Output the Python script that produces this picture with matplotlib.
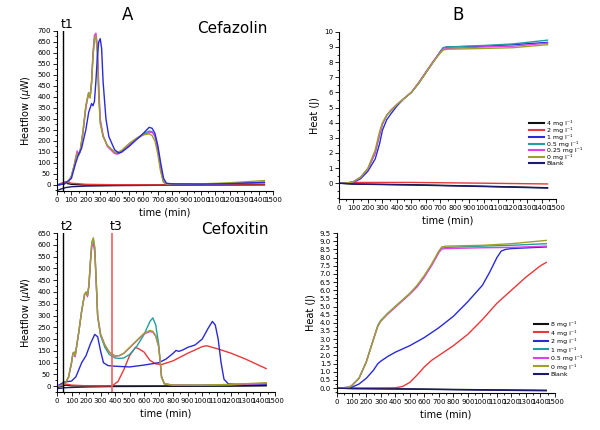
import matplotlib
matplotlib.use("Agg")
import matplotlib.pyplot as plt
from matplotlib.ticker import MultipleLocator, FormatStrFormatter, FixedLocator

# ---------------- Farben / Legenden ----------------
col = {"black": "#101010", "red": "#e8383a", "blue": "#2a2ad8", "teal": "#1fa0a0",
       "magenta": "#e040e8", "olive": "#a0a028", "navy": "#1a1a70"}

labels_cefazolin = ["4 mg l⁻¹", "2 mg l⁻¹", "1 mg l⁻¹", "0.5 mg l⁻¹",
                    "0.25 mg l⁻¹", "0 mg l⁻¹", "Blank"]
labels_cefoxitin = ["8 mg l⁻¹", "4 mg l⁻¹", "2 mg l⁻¹", "1 mg l⁻¹",
                    "0.5 mg l⁻¹", "0 mg l⁻¹", "Blank"]
colors = ["black", "red", "blue", "teal", "magenta", "olive", "navy"]

# ---------------- Cefazolin Heatflow (uW) ----------------
hf_t_main = [0, 50, 80, 100, 120, 130, 140, 150, 160, 180, 200, 210, 220, 230, 240, 250, 260, 270,
             280, 290, 300, 320, 350, 400, 420, 450, 500, 550, 600, 640, 660, 680, 700, 720, 740,
             760, 800, 1000, 1200, 1440]
hf_cz_olive = [0, 5, 15, 40, 90, 120, 145, 135, 150, 240, 360, 390, 420, 395, 460, 580, 660, 680,
               600, 400, 280, 220, 180, 150, 148, 158, 188, 212, 228, 232, 225, 200, 140, 60, 12,
               5, 4, 5, 10, 20]
hf_cz_magenta = [0, 5, 15, 40, 90, 125, 155, 140, 150, 235, 350, 385, 415, 400, 470, 600, 680, 690,
                 640, 450, 300, 225, 175, 143, 140, 150, 180, 208, 228, 238, 240, 225, 170, 80, 15,
                 5, 4, 4, 6, 10]
hf_cz_teal = [0, 5, 15, 40, 90, 120, 140, 135, 150, 240, 355, 390, 420, 400, 465, 590, 665, 675,
              610, 420, 290, 222, 178, 146, 143, 153, 183, 210, 232, 245, 242, 222, 160, 70, 13,
              5, 4, 4, 7, 12]
hf_t_blue = [0, 50, 100, 130, 150, 170, 200, 220, 240, 250, 260, 270, 280, 290, 300, 310, 320, 340,
             360, 400, 430, 450, 500, 550, 600, 640, 660, 680, 700, 720, 740, 760, 800, 1000, 1200, 1440]
hf_cz_blue = [0, 5, 30, 100, 140, 165, 250, 330, 370, 360, 380, 470, 580, 650, 665, 620, 470, 300,
              220, 160, 145, 150, 175, 205, 235, 262, 258, 235, 180, 100, 30, 8, 5, 4, 6, 12]
hf_t_flat = [0, 30, 60, 100, 200, 400, 800, 1200, 1440]
hf_cz_black = [-2, 4, 8, 3, 0, 0, 0, 1, 2]
hf_cz_red = [0, 8, 15, 8, 3, 1, 0, 0, 0]
hf_cz_navy = [-25, -18, -12, -8, -5, -3, -1, 0, 2]

# ---------------- Cefazolin Heat (J) ----------------
q_t = [0, 50, 100, 150, 200, 250, 280, 300, 330, 360, 400, 450, 500, 550, 600, 650, 700, 720, 750,
       1000, 1200, 1440]
q_cz_olive = [0, 0, 0.1, 0.4, 1.0, 2.2, 3.4, 4.0, 4.5, 4.8, 5.2, 5.6, 6.0, 6.6, 7.3, 8.0, 8.6, 8.8,
              8.85, 8.9, 8.95, 9.15]
q_cz_teal = [0, 0, 0.1, 0.4, 0.95, 2.0, 3.2, 3.9, 4.5, 4.8, 5.2, 5.6, 6.0, 6.6, 7.3, 8.0, 8.7, 8.95,
             9.0, 9.1, 9.2, 9.45]
q_cz_magenta = [0, 0, 0.1, 0.4, 0.95, 2.0, 3.2, 3.9, 4.5, 4.85, 5.2, 5.6, 6.0, 6.65, 7.35, 8.05, 8.65,
                8.85, 8.9, 9.0, 9.05, 9.25]
q_cz_blue = [0, 0, 0.05, 0.3, 0.8, 1.6, 2.6, 3.5, 4.2, 4.6, 5.1, 5.6, 6.0, 6.6, 7.3, 8.0, 8.7, 8.95,
             9.0, 9.05, 9.15, 9.3]
q_t_flat = [0, 100, 500, 1000, 1440]
q_cz_black = [0, -0.05, -0.1, -0.2, -0.3]
q_cz_red = [0, 0.05, 0.05, 0.0, -0.05]
q_cz_navy = [0, -0.06, -0.12, -0.22, -0.32]

# ---------------- Cefoxitin Heatflow (uW) ----------------
hf_t_fx = [0, 40, 60, 80, 100, 110, 120, 125, 130, 150, 170, 190, 200, 210, 220, 230, 240, 250, 260,
           270, 280, 300, 330, 360, 400, 430, 460, 500, 550, 600, 640, 660, 680, 700, 710, 720, 740,
           800, 1000, 1200, 1440]
hf_fx_olive = [0, 5, 15, 40, 100, 140, 145, 130, 150, 230, 320, 390, 400, 385, 430, 530, 610, 630,
               590, 450, 300, 220, 175, 145, 128, 130, 140, 165, 195, 225, 237, 233, 215, 170, 110,
               40, 10, 5, 5, 8, 15]
hf_fx_magenta = [0, 5, 15, 40, 100, 140, 140, 125, 145, 230, 320, 390, 395, 380, 425, 520, 595, 605,
                 570, 440, 300, 222, 175, 145, 128, 130, 140, 163, 193, 222, 232, 230, 212, 168, 108,
                 38, 10, 5, 4, 6, 12]
hf_fx_teal = [0, 5, 15, 40, 100, 140, 145, 130, 150, 230, 320, 390, 400, 385, 430, 530, 610, 625,
              585, 445, 295, 215, 165, 135, 120, 118, 120, 135, 170, 220, 275, 290, 260, 180, 110,
              40, 10, 5, 5, 7, 12]
hf_t_fx_blue = [0, 50, 100, 130, 170, 200, 230, 260, 280, 300, 320, 350, 400, 500, 600, 700, 750, 800,
                820, 840, 870, 900, 950, 1000, 1040, 1070, 1090, 1110, 1130, 1150, 1180, 1250, 1440]
hf_fx_blue = [0, 18, 22, 40, 100, 130, 180, 220, 210, 150, 100, 88, 85, 82, 90, 100, 115, 140, 152,
              148, 155, 165, 175, 200, 245, 275, 260, 200, 100, 30, 10, 8, 8]
hf_t_fx_red = [0, 50, 100, 200, 300, 380, 420, 460, 500, 540, 560, 600, 640, 680, 720, 800, 900, 1000,
               1030, 1100, 1200, 1300, 1440]
hf_fx_red = [0, 10, 5, 2, 1, 2, 20, 70, 130, 165, 160, 145, 110, 95, 92, 108, 140, 168, 172, 160, 140,
             115, 75]
hf_fx_black = [-5, 0, 5, 2, 1, 1, 1, 1, 2]
hf_fx_navy = [-10, -8, -6, -5, -3, -1, 0, 2, 4]

# ---------------- Cefoxitin Heat (J) ----------------
q_t_fx = [0, 80, 100, 150, 200, 250, 280, 300, 350, 400, 450, 500, 550, 600, 650, 700, 720, 750,
          1000, 1200, 1440]
q_fx_olive = [0, 0.05, 0.15, 0.6, 1.6, 3.0, 3.8, 4.1, 4.6, 5.0, 5.4, 5.8, 6.3, 6.9, 7.6, 8.4, 8.65,
              8.7, 8.75, 8.85, 9.05]
q_fx_teal = [0, 0.05, 0.15, 0.6, 1.6, 3.0, 3.85, 4.15, 4.6, 5.0, 5.4, 5.8, 6.25, 6.85, 7.55, 8.35,
             8.58, 8.62, 8.7, 8.75, 8.85]
q_fx_magenta = [0, 0.05, 0.15, 0.6, 1.6, 3.0, 3.8, 4.1, 4.55, 4.95, 5.35, 5.75, 6.2, 6.8, 7.5, 8.3,
                8.52, 8.55, 8.6, 8.62, 8.7]
q_t_fx_blue = [0, 100, 150, 200, 250, 280, 300, 350, 400, 500, 600, 700, 800, 900, 1000, 1050, 1100,
               1130, 1160, 1200, 1440]
q_fx_blue = [0, 0.05, 0.25, 0.6, 1.1, 1.5, 1.65, 1.95, 2.2, 2.6, 3.1, 3.7, 4.4, 5.3, 6.3, 7.1, 8.0,
             8.4, 8.5, 8.55, 8.65]
q_t_fx_red = [0, 400, 450, 500, 550, 600, 650, 700, 800, 900, 1000, 1100, 1200, 1300, 1400, 1440]
q_fx_red = [0, 0.02, 0.1, 0.35, 0.8, 1.3, 1.7, 2.0, 2.6, 3.3, 4.2, 5.2, 6.0, 6.8, 7.5, 7.7]
q_fx_black = [0, -0.02, -0.05, -0.1, -0.13]
q_fx_navy = [0, -0.03, -0.06, -0.12, -0.16]


def style_axis(ax, ymax, ymin, ymajor, yminor, yfmt=None):
    ax.set_xlim(0, 1500)
    ax.set_ylim(ymin, ymax)
    ax.spines["top"].set_visible(False)
    ax.spines["right"].set_visible(False)
    ax.xaxis.set_major_locator(MultipleLocator(100))
    ax.xaxis.set_minor_locator(MultipleLocator(50))
    ax.yaxis.set_major_locator(MultipleLocator(ymajor))
    ax.yaxis.set_minor_locator(MultipleLocator(yminor))
    if yfmt:
        ax.yaxis.set_major_formatter(FormatStrFormatter(yfmt))
    ax.tick_params(which="both", direction="out", labelsize=5, width=0.6, pad=1.5)
    ax.tick_params(which="major", length=3)
    ax.tick_params(which="minor", length=1.5)
    ax.set_xlabel("time (min)", fontsize=7, labelpad=3)


fig = plt.figure(figsize=(6, 4.3), dpi=100)
ax1 = fig.add_axes([0.095, 0.556, 0.36, 0.372])
ax2 = fig.add_axes([0.565, 0.537, 0.362, 0.389])
ax3 = fig.add_axes([0.095, 0.088, 0.363, 0.370])
ax4 = fig.add_axes([0.562, 0.086, 0.363, 0.372])

lw = 1.0

# A oben
ax1.plot(hf_t_flat, hf_cz_navy, color=col["navy"], lw=lw)
ax1.plot(hf_t_flat, hf_cz_black, color=col["black"], lw=lw)
ax1.plot(hf_t_flat, hf_cz_red, color=col["red"], lw=lw)
ax1.plot(hf_t_main, hf_cz_teal, color=col["teal"], lw=lw)
ax1.plot(hf_t_main, hf_cz_magenta, color=col["magenta"], lw=lw)
ax1.plot(hf_t_main, hf_cz_olive, color=col["olive"], lw=lw)
ax1.plot(hf_t_blue, hf_cz_blue, color=col["blue"], lw=lw)
ax1.axvline(40, color="black", lw=1.0)
style_axis(ax1, 700, -27, 50, 25)
ax1.set_ylabel("Heatflow ($\\mu$W)", fontsize=7, labelpad=3)
ax1.text(25, 712, "t1", fontsize=9)
ax1.text(1460, 690, "Cefazolin", fontsize=11, ha="right")

# B oben
q_cz_series = [(q_t_flat, q_cz_black), (q_t_flat, q_cz_red), (q_t, q_cz_blue), (q_t, q_cz_teal),
               (q_t, q_cz_magenta), (q_t, q_cz_olive), (q_t_flat, q_cz_navy)]
for (tx, yy), c, lab in zip(q_cz_series, colors, labels_cefazolin):
    ax2.plot(tx, yy, color=col[c], lw=lw, label=lab)
style_axis(ax2, 10, -1.05, 1, 0.5)
ax2.yaxis.set_major_locator(FixedLocator(range(0, 11)))
ax2.set_ylabel("Heat (J)", fontsize=7, labelpad=3)
leg2 = ax2.legend(loc="upper left", bbox_to_anchor=(0.875, 0.47), fontsize=4.5, frameon=False,
                  handlelength=2.4, labelspacing=0.12, borderpad=0, handletextpad=0.4,
                  borderaxespad=0)
for h in leg2.get_lines():
    h.set_linewidth(1.5)

# A unten
ax3.plot(hf_t_flat, hf_fx_navy, color=col["navy"], lw=lw)
ax3.plot(hf_t_flat, hf_fx_black, color=col["black"], lw=lw)
ax3.plot(hf_t_fx_red, hf_fx_red, color=col["red"], lw=lw)
ax3.plot(hf_t_fx_blue, hf_fx_blue, color=col["blue"], lw=lw)
ax3.plot(hf_t_fx, hf_fx_teal, color=col["teal"], lw=lw)
ax3.plot(hf_t_fx, hf_fx_magenta, color=col["magenta"], lw=lw)
ax3.plot(hf_t_fx, hf_fx_olive, color=col["olive"], lw=lw)
ax3.axvline(40, color="black", lw=1.0)
ax3.axvline(380, color="#f06060", lw=1.2)
style_axis(ax3, 650, -25, 50, 25)
ax3.set_ylabel("Heatflow ($\\mu$W)", fontsize=7, labelpad=3)
ax3.text(25, 662, "t2", fontsize=9)
ax3.text(360, 662, "t3", fontsize=9)
ax3.text(1460, 648, "Cefoxitin", fontsize=11, ha="right")

# B unten
q_fx_series = [(q_t_flat, q_fx_black), (q_t_fx_red, q_fx_red), (q_t_fx_blue, q_fx_blue),
               (q_t_fx, q_fx_teal), (q_t_fx, q_fx_magenta), (q_t_fx, q_fx_olive), (q_t_flat, q_fx_navy)]
for (tx, yy), c, lab in zip(q_fx_series, colors, labels_cefoxitin):
    ax4.plot(tx, yy, color=col[c], lw=lw, label=lab)
style_axis(ax4, 9.5, -0.3, 0.5, 0.25, "%.1f")
ax4.set_ylabel("Heat (J)", fontsize=7, labelpad=3)
leg4 = ax4.legend(loc="upper left", bbox_to_anchor=(0.905, 0.45), fontsize=4.5, frameon=False,
                  handlelength=2.2, labelspacing=0.4, borderpad=0, handletextpad=0.4,
                  borderaxespad=0)
for h in leg4.get_lines():
    h.set_linewidth(1.5)

fig.text(0.213, 0.965, "A", fontsize=12, ha="center", va="center")
fig.text(0.763, 0.965, "B", fontsize=12, ha="center", va="center")

plt.savefig("out.png", dpi=100)
